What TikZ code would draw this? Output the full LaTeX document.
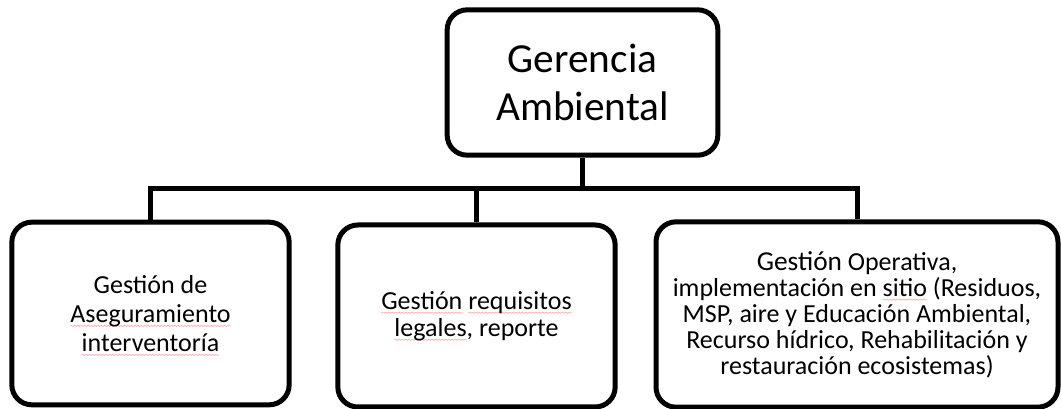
\documentclass[tikz,border=0pt]{standalone}
\usepackage{fontspec}
\setmainfont{Carlito}
\usetikzlibrary{decorations.pathmorphing}
\newdimen\sqwd
\newcommand\sqw[1]{\setbox0=\hbox{#1}\sqwd=\wd0\leavevmode\rlap{\tikz[overlay]\draw[draw=red!35, line width=0.45pt, sharp corners, decorate, decoration={snake, amplitude=0.5pt, segment length=2.5pt}] (0pt,-2.6pt) -- (\sqwd,-2.6pt);}\box0}
\tikzset{
  box/.style={draw=black, line width=3.75pt, rounded corners=15pt, align=center, inner sep=0pt, fill=white},
  link/.style={draw=black, line width=3.75pt, line join=miter}
}
\begin{document}
\begin{tikzpicture}[x=0.75pt,y=-0.75pt]
\useasboundingbox (0,0) rectangle (1061,409);
\fill[white] (0,0) rectangle (1061,409);
\node[box, minimum width=203pt, minimum height=109pt, font=\fontsize{31}{36}\selectfont] (top) at (582.5,82.5) {Gerencia\\Ambiental};
\node[box, minimum width=208pt, minimum height=137pt, font=\fontsize{19.5}{21.75}\selectfont] (left) at (150.5,313.5) {Gestión de\\\sqw{Aseguramiento}\\\sqw{interventoría}};
\node[box, minimum width=208pt, minimum height=136.5pt, font=\fontsize{19.5}{20.25}\selectfont] (mid) at (476.5,316) {\sqw{Gestión}\ \sqw{requisitos}\\\sqw{legales}, reporte};
\node[box, minimum width=301.5pt, minimum height=139pt, font=\fontsize{19.5}{19.5}\selectfont] (right) at (857,314.5) {{\fontsize{20.5}{19.5}\selectfont Gestión} Operativa,\\implementación en \sqw{sitio}\ (Residuos,\\MSP, aire y Educación Ambiental,\\Recurso hídrico, Rehabilitación y\\restauración ecosistemas)};
\coordinate (bar) at (0,189);
\draw[link] (left.north) -- (left.north |- bar) -- (right.north |- bar) -- (right.north);
\draw[link] (top.south) -- (top.south |- bar);
\draw[link] (mid.north) -- (mid.north |- bar);
\end{tikzpicture}
\end{document}
